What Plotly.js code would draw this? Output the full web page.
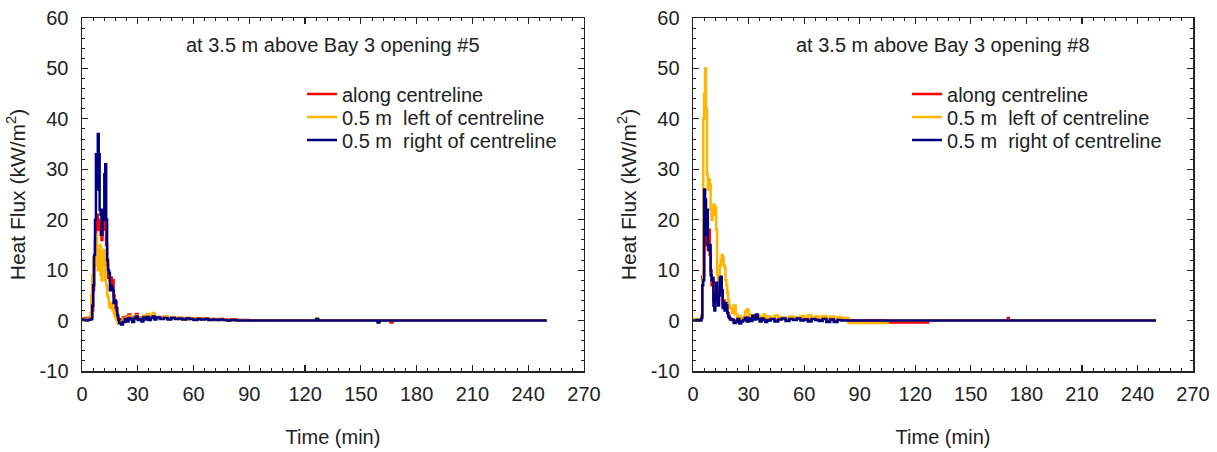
<!DOCTYPE html>
<html>
<head>
<meta charset="utf-8">
<script src="https://cdn.plot.ly/plotly-3.0.1.min.js"></script>
<style>html,body{margin:0;padding:0;background:#fff;}#chart{width:1217px;height:452px;}</style>
</head>
<body>
<div id="chart"></div>
<script>
// ---- Data (time in min, heat flux in kW/m2) ----
const timeLeft = [0,1,2,3,4,
  4.5,5,5.5,6,6.5,7,7.5,8,8.5,9,9.5,10,10.5,11,11.5,12,12.5,13,13.5,14,14.5,15,15.5,16,16.5,17,17.5,18,18.5,19,19.5,
  20,21,22,23,24,25,26,27,28,29,30,31,32,33,34,35,36,37,38,39,40,
  42,44,46,48,50,52,54,56,58,60,62,64,66,68,70,72,74,76,78,80,
  83,90,100,110,120,126,127,140,159,160,166,167,180,200,220,240,247,250];

const leftCentre = [0.3,0.4,0.5,0.5,0.6,
  0.6,0.8,2,6,11,16,19,21,18,20,19,17,16,19,18,21,20,15,11,8.5,9,8,8.5,7,8,5,4,2.5,1.5,0.5,-0.2,
  -0.3,0.2,0.6,0.2,0.8,1.2,0.5,0.1,0.7,1.3,0.5,0.6,0.2,0.9,0.5,1.0,0.4,0.6,1.0,0.4,0.7,
  0.5,0.7,0.4,0.6,0.5,0.5,0.3,0.5,0.4,0.3,0.4,0.3,0.4,0.2,0.3,0.2,0.3,0.2,0.1,0.2,
  0.1,0,0,0,0,0,0,0,0,0,-0.4,0,0,0,0,0,0,0];

const leftLeft = [0.3,0.3,0.2,0.3,0.4,
  1.5,5,9,12.5,11,15,17,14,10,12,15,9,8,11,14,12,8,7,5,4.5,3,2.5,3.5,3,2,1.5,1,0.5,0.2,-0.3,-0.6,
  -0.5,-0.2,0.4,0.0,0.6,0.9,0.3,0.0,0.5,1.0,0.3,0.5,0.0,0.8,0.6,1.3,0.4,0.8,1.5,0.5,0.6,
  0.4,0.8,0.3,0.5,0.6,0.3,0.4,0.2,0.5,0.3,0.2,0.4,0.2,0.3,0.1,0.2,0.1,0.2,0.1,0.0,
  0,0,0,0,0,0.4,0,0,0,0,0,0,0,0,0,0,0,0];

const leftRight = [0.2,0.1,0.0,0.1,0.2,
  0.2,0.3,3,7,13,20,33,26,37,33,22,21,17,22,20,29,31,20,12,10,9.5,6,7,6.5,6,3.5,4,3.8,2.5,1,0.2,
  -0.5,-0.8,-0.3,0.3,-0.2,0.5,0.2,-0.3,0.4,0.8,0.1,0.3,-0.2,0.6,0.2,0.7,0.1,0.5,0.8,0.2,0.6,
  0.3,0.5,0.2,0.5,0.3,0.4,0.2,0.4,0.3,0.1,0.3,0.2,0.3,0.1,0.2,0.1,0.2,0.1,0.0,0.1,
  0,0,0,0,0,0.3,0,0,-0.4,0,0,0,0,0,0,0,0,0];

const timeRight = [0,1,2,3,4,
  4.5,5,5.5,6,6.5,7,7.5,8,8.5,9,9.5,10,10.5,11,11.5,12,12.5,13,13.5,14,14.5,15,15.5,16,16.5,17,17.5,18,18.5,19,19.5,
  20,21,22,23,24,25,26,27,28,29,30,31,32,33,34,35,36,37,38,39,40,
  42,44,46,48,50,52,54,56,58,60,62,64,66,68,70,72,74,76,78,80,
  84,90,100,104,105,110,120,126,127,140,170,170.5,200,220,240,250];

const rightCentre = [0.2,0.2,0.1,0.2,0.2,
  1,8.7,9,20,18,15,17,14,18,13,10,7,8,4,3,5.5,7,5,4,6,8,7.5,5,3,4,2.5,3,2.5,1.5,1,0.6,
  0.3,0.2,-0.3,0.0,0.5,-0.3,0.1,0.3,0.7,0.2,0.6,0.2,1.0,0.4,1.0,0.5,0.1,0.6,0.3,0.0,0.2,
  0.4,0.1,0.4,0.5,0.2,0.4,0.3,0.5,0.2,0.3,0.1,0.4,0.2,0.1,0.4,0.0,0.3,0.0,0.2,0.1,
  0,0,0,0,-0.4,-0.4,-0.4,-0.4,0,0,0.5,0,0,0,0,0];

const rightLeft = [0.3,0.2,0.3,0.2,0.3,
  1,8,40,45,50,42,29,26,28,27,22,20,22,23,21,22.5,18,9,7,8,11,12,13,12.5,11,10.5,8,7,5.5,4,3,
  2.5,1.5,3,1.2,0.5,0.8,0.3,0.5,1.8,2.2,1.2,0.6,0.8,0.3,0.5,0.9,0.4,0.7,1.2,0.6,0.8,
  0.5,1.0,0.6,0.4,0.5,0.8,0.6,0.5,0.9,0.7,1.0,0.5,0.8,0.6,0.9,0.5,0.8,0.4,0.7,0.5,
  -0.5,-0.5,-0.5,-0.5,0,0,0,0,0,0,0,0,0,0,0,0];

const rightRight = [0,0,0.1,0,0,
  0.5,7,8,26,24,17,22,15,14,15,9,8,8.5,3,2,5,7.5,4,3,5,8.5,8.7,6,2.5,3.5,2,3.5,3,1.5,0.8,0.5,
  0.2,0.1,-0.5,-0.3,0.3,-0.6,-0.2,0.1,0.5,-0.2,0.4,-0.1,0.9,0.2,1.2,0.3,-0.2,0.4,0.1,-0.3,0.0,
  0.3,-0.2,0.2,0.4,-0.1,0.3,0.1,0.4,0.0,0.2,-0.2,0.3,0.1,-0.1,0.3,-0.3,0.2,-0.3,0.1,0.0,
  0,0,0,0,0,0,0,0,0,0,0,0,0,0,0,0];

const seriesNames = ['along centreline', '0.5\u00a0m\u00a0\u00a0left of centreline', '0.5\u00a0m\u00a0\u00a0right of centreline'];
const panelTitles = ['at 3.5 m above Bay 3 opening #5', 'at 3.5 m above Bay 3 opening #8'];
const xTitle = 'Time (min)';
const yTitle = 'Heat Flux (kW/m<sup>2</sup>)';
const xTickVals = [0,30,60,90,120,150,180,210,240,270];
const xTickText = ['0','30','60','90','120','150','180','210','240','270'];
const yTickVals = [-10,0,10,20,30,40,50,60];
const yTickText = ['-10','0','10','20','30','40','50','60'];

// ---- Styles ----
const colors = ['#ff0000', '#ffb400', '#000080'];
const FONT = 'Liberation Sans, Arial, sans-serif';
const TXT = '#222222';
const FS = 20;

function tr(x, y, i, xa, ya, leg) {
  return {x: x, y: y, type: 'scatter', mode: 'lines', name: seriesNames[i],
    xaxis: xa, yaxis: ya, legend: leg,
    line: {color: colors[i], width: 2.5, shape: 'hv'}};
}

const data = [
  tr(timeLeft, leftCentre, 0, 'x', 'y', 'legend'),
  tr(timeLeft, leftLeft, 1, 'x', 'y', 'legend2'),
  tr(timeLeft, leftRight, 2, 'x', 'y', 'legend3'),
  tr(timeRight, rightCentre, 0, 'x2', 'y2', 'legend4'),
  tr(timeRight, rightLeft, 1, 'x2', 'y2', 'legend5'),
  tr(timeRight, rightRight, 2, 'x2', 'y2', 'legend6')
];

function xax(dom, anchor) {
  return {domain: dom, anchor: anchor, range: [0, 270], tickmode: 'array', tickvals: xTickVals, ticktext: xTickText,
    showgrid: false, zeroline: false,
    showline: true, mirror: 'allticks', linecolor: '#222', linewidth: 1.5,
    ticks: 'inside', ticklen: 6, tickwidth: 1.2, tickcolor: '#222', ticklabelstandoff: 4,
    minor: {dtick: 6, tick0: 0, ticks: 'inside', ticklen: 3, tickwidth: 1, tickcolor: '#222'},
    tickfont: {family: FONT, size: FS, color: TXT},
    title: {text: xTitle, standoff: 26, font: {family: FONT, size: FS, color: TXT}}};
}
function yax(anchor) {
  return {domain: [0, 1], anchor: anchor, range: [-10, 60], tickmode: 'array', tickvals: yTickVals, ticktext: yTickText,
    showgrid: false, zeroline: false,
    showline: true, mirror: 'allticks', linecolor: '#222', linewidth: 1.5,
    ticks: 'inside', ticklen: 6, tickwidth: 1.2, tickcolor: '#222', ticklabelstandoff: 8,
    minor: {dtick: 2, tick0: 0, ticks: 'inside', ticklen: 3, tickwidth: 1, tickcolor: '#222'},
    tickfont: {family: FONT, size: FS, color: TXT},
    title: {text: yTitle, standoff: 8, font: {family: FONT, size: FS + 1, color: TXT}}};
}
function leg(x, y) {
  return {x: x, y: y, xanchor: 'left', yanchor: 'middle', bgcolor: 'rgba(0,0,0,0)', borderwidth: 0,
    font: {family: FONT, size: FS, color: TXT}};
}

const rowY = [0.7847, 0.7195, 0.6544];
const layout = {
  width: 1217, height: 452,
  margin: {l: 82, r: 24, t: 18, b: 81},
  paper_bgcolor: '#fff', plot_bgcolor: '#fff',
  font: {family: FONT, size: FS, color: TXT},
  showlegend: true,
  xaxis: xax([0, 0.4518], 'y'), yaxis: yax('x'),
  xaxis2: xax([0.55, 1.0], 'y2'), yaxis2: yax('x2'),
  legend: leg(0.198, rowY[0]),
  legend2: leg(0.198, rowY[1]),
  legend3: leg(0.198, rowY[2]),
  legend4: leg(0.7426, rowY[0]),
  legend5: leg(0.7426, rowY[1]),
  legend6: leg(0.7426, rowY[2]),
  annotations: [
    {text: panelTitles[0], xref: 'x domain', yref: 'y domain', x: 0.5, y: 0.9235, showarrow: false,
      xanchor: 'center', yanchor: 'middle', font: {family: FONT, size: FS, color: TXT}},
    {text: panelTitles[1], xref: 'x2 domain', yref: 'y2 domain', x: 0.5, y: 0.9235, showarrow: false,
      xanchor: 'center', yanchor: 'middle', font: {family: FONT, size: FS, color: TXT}}
  ]
};

Plotly.newPlot('chart', data, layout, {staticPlot: true, displayModeBar: false});
</script>
</body>
</html>
